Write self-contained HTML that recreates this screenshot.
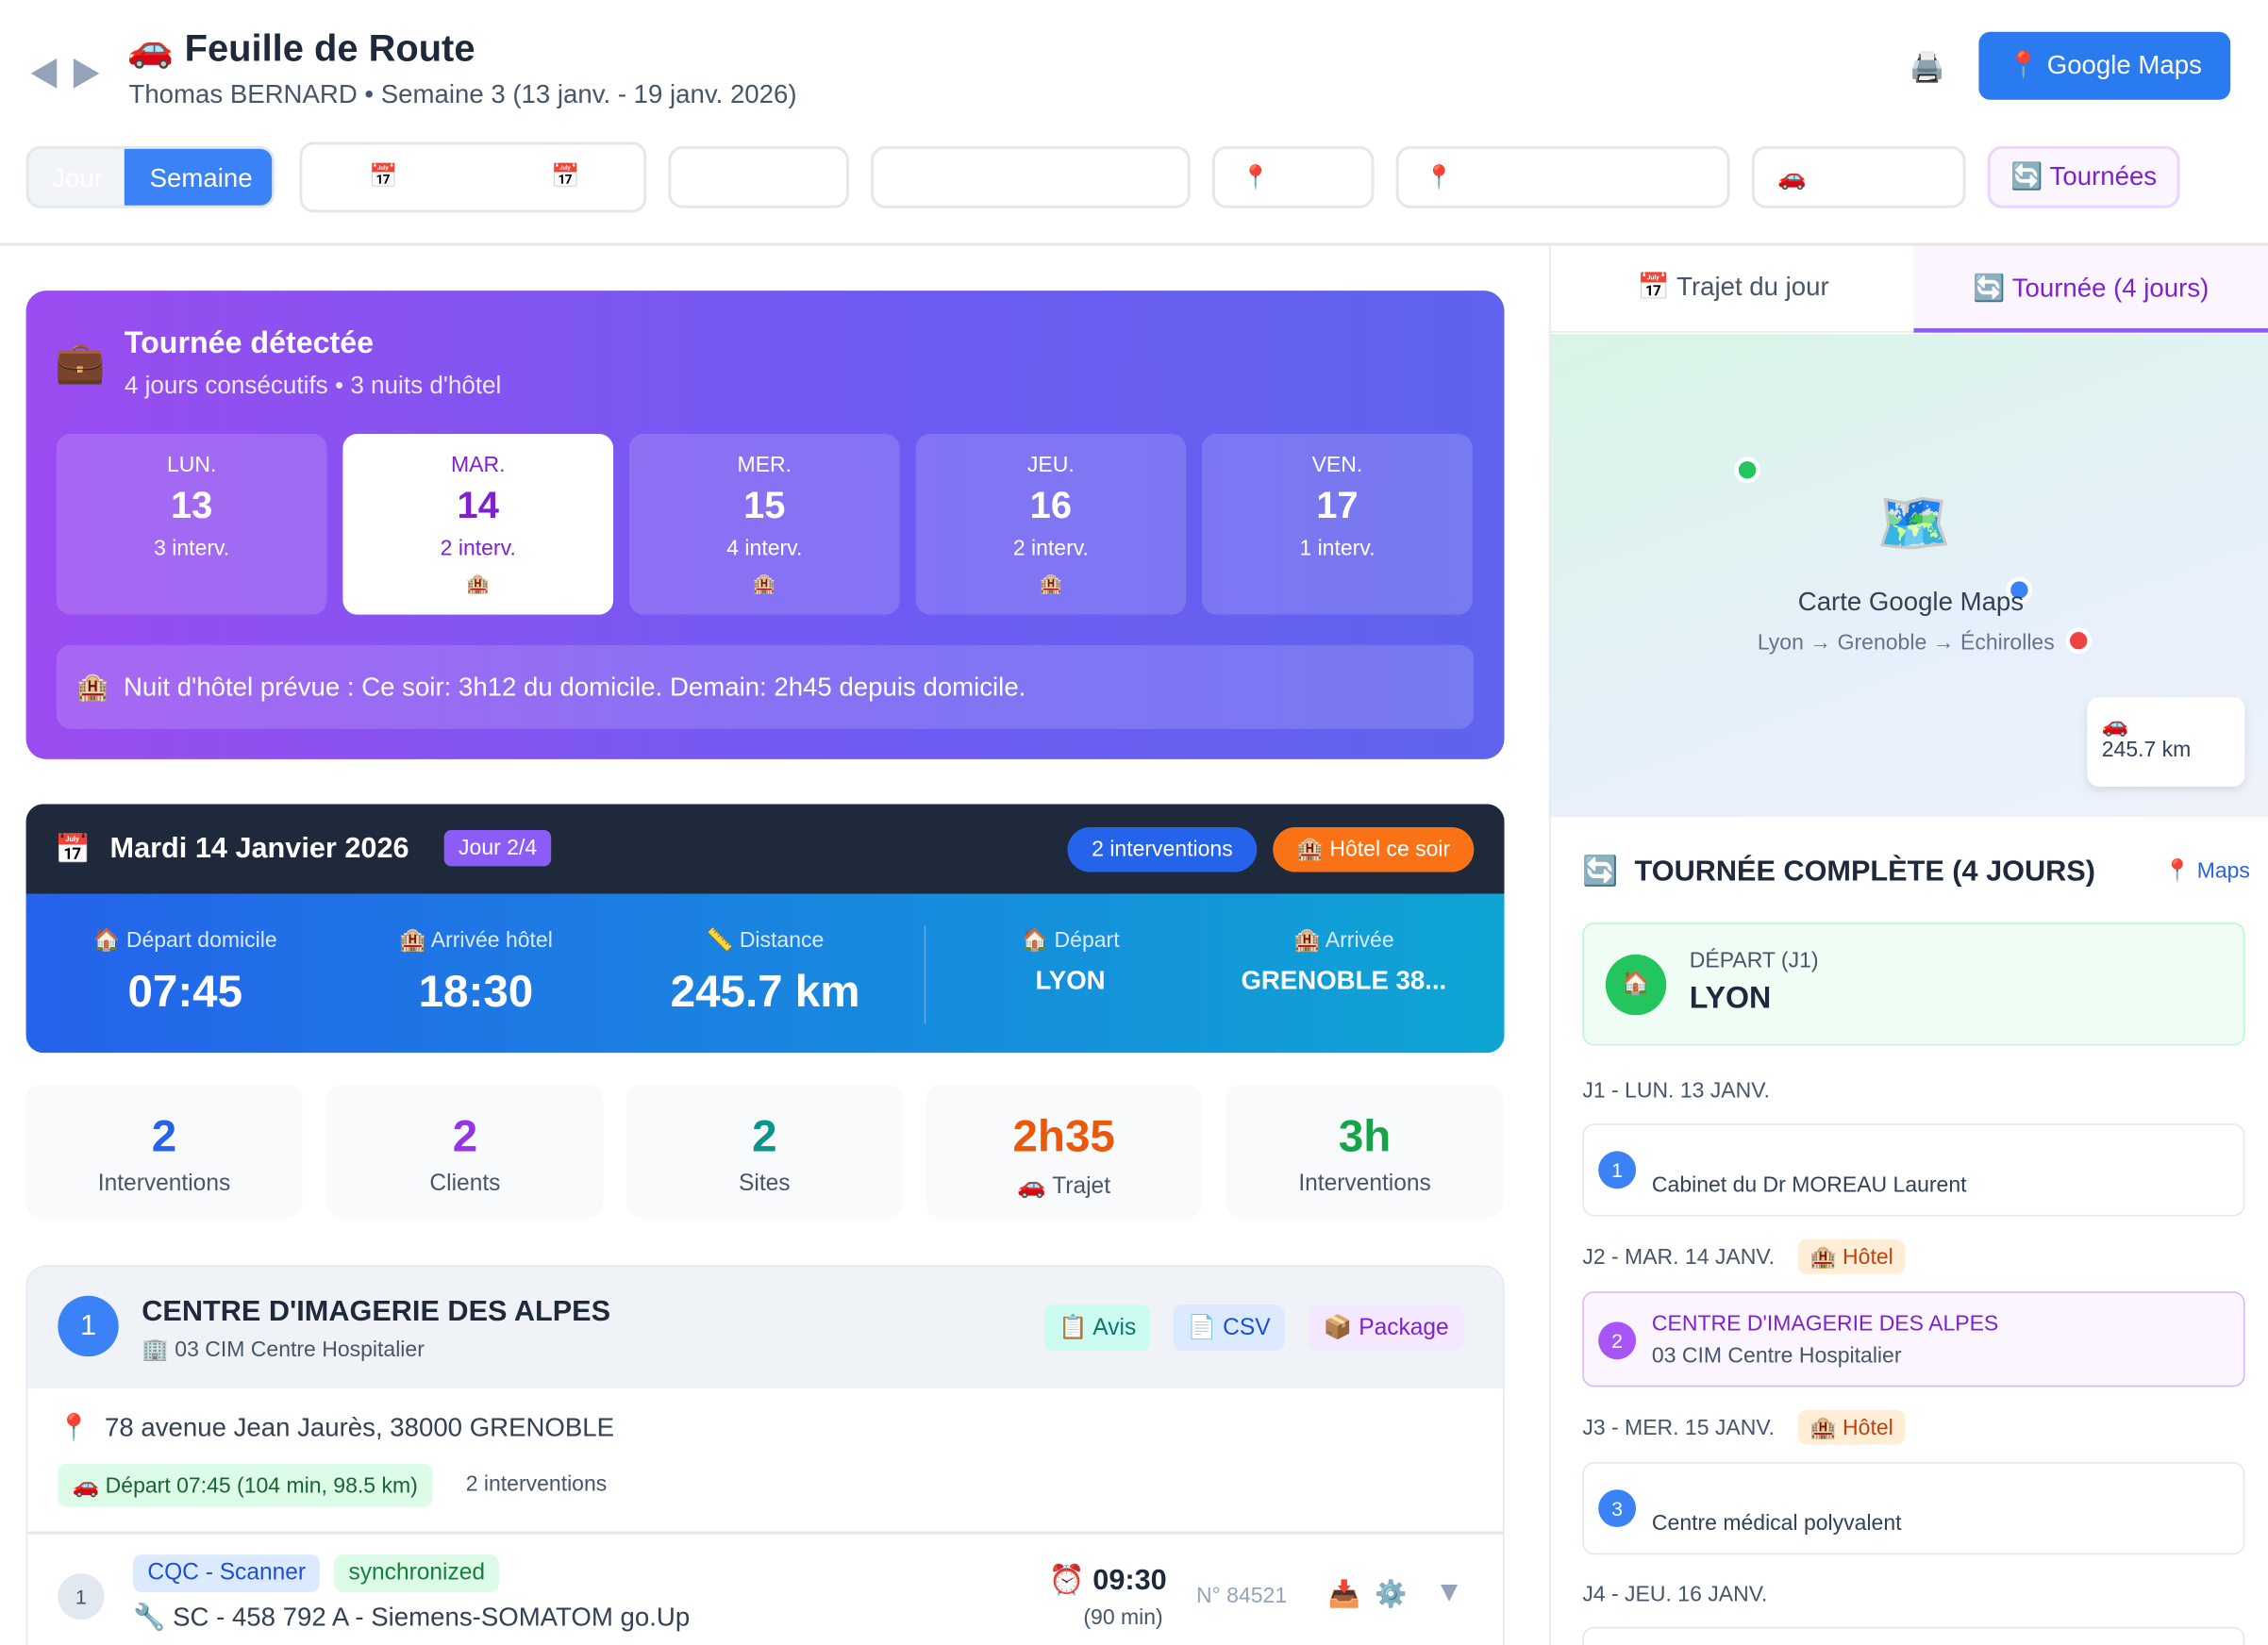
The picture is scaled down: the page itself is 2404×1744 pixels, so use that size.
<!DOCTYPE html>
<html><head><meta charset="utf-8"><style>
*{box-sizing:border-box;margin:0;padding:0}
html,body{width:2404px;height:1744px;overflow:hidden;background:#fff}
#w{width:1568px;height:1138px;position:relative;transform:scale(1.5332);transform-origin:0 0;font-family:"Liberation Sans","Noto Sans CJK JP",sans-serif;color:#1e293b}
.a{position:absolute}
.box{position:absolute;border:2px solid #e5e7eb;border-radius:10px;background:#fff}
.c{text-align:center}
.day{position:absolute;top:300px;width:187px;height:125px;border-radius:10px;background:rgba(255,255,255,.15);color:#fff;text-align:center}
.day .d1{font-size:15px;margin-top:13px}.day .d2{font-size:26px;font-weight:bold;margin-top:4px}.day .d3{font-size:15px;margin-top:6px}.day .d4{font-size:13px;margin-top:8px}
.st{position:absolute;top:750px;width:191px;height:92px;border-radius:10px;background:#f8fafc;text-align:center}
.st b{display:block;font-size:31px;margin-top:18px}.st span{font-size:16px;color:#475569;display:block;margin-top:6px}
.tag{position:absolute;border-radius:6px;font-size:16px;padding:6px 10px}
.card{position:absolute;left:1094px;width:458px;border:1px solid #e2e8f0;border-radius:8px;background:#fff}
.num{position:absolute;width:26px;height:26px;border-radius:13px;color:#fff;font-size:14px;text-align:center;line-height:26px}
.lbl{position:absolute;left:1094px;font-size:15px;color:#475569}
</style></head><body><div id="w">
<div class="a" style="left:20px;top:34px;font-size:22px;color:#94a3b8">◀ ▶</div>
<div class="a" style="left:88px;top:18px;font-size:26px;font-weight:bold">🚗 Feuille de Route</div>
<div class="a" style="left:89px;top:55px;font-size:18px;color:#475569">Thomas BERNARD • Semaine 3 (13 janv. - 19 janv. 2026)</div>
<div class="a" style="left:1320px;top:34px;font-size:20px">🖨️</div>
<div class="a" style="left:1368px;top:22px;width:174px;height:47px;border-radius:8px;background:#2b7bf0;color:#fff;font-size:18px;line-height:47px;text-align:center">📍 Google Maps</div>
<div class="box" style="left:18px;top:101px;width:172px;height:43px;background:#f1f5f9;overflow:hidden"><div class="a" style="left:16px;top:10px;color:#fff;font-size:18px">Jour</div><div class="a" style="left:66px;top:-2px;width:106px;height:45px;background:#3b82f6;color:#fff;font-size:18px;line-height:45px;text-align:center">Semaine</div></div>
<div class="box" style="left:207px;top:98px;width:240px;height:49px"><span class="a" style="left:46px;top:12px">📅</span><span class="a" style="left:172px;top:12px">📅</span></div>
<div class="box" style="left:462px;top:101px;width:125px;height:43px"></div>
<div class="box" style="left:602px;top:101px;width:221px;height:43px"></div>
<div class="box" style="left:838px;top:101px;width:112px;height:43px"><span class="a" style="left:18px;top:10px">📍</span></div>
<div class="box" style="left:965px;top:101px;width:231px;height:43px"><span class="a" style="left:18px;top:10px">📍</span></div>
<div class="box" style="left:1211px;top:101px;width:148px;height:43px"><span class="a" style="left:16px;top:10px">🚗</span></div>
<div class="box" style="left:1374px;top:101px;width:133px;height:43px;background:#faf5ff;border-color:#e9d5ff;color:#7e22ce;font-size:18px;line-height:39px;text-align:center">🔄 Tournées</div>
<div class="a" style="left:0;top:168px;width:1568px;height:2px;background:#e5e7eb"></div>

<div class="a" style="left:18px;top:201px;width:1022px;height:324px;border-radius:14px;background:linear-gradient(90deg,#9b4cf0,#6d5cf2 60%,#5f63ee)"></div>
<div class="a" style="left:38px;top:234px;font-size:28px">💼</div>
<div class="a" style="left:86px;top:226px;font-size:21px;font-weight:bold;color:#fff">Tournée détectée</div>
<div class="a" style="left:86px;top:257px;font-size:17px;color:#ede9fe">4 jours consécutifs • 3 nuits d'hôtel</div>
<div class="day" style="left:39px"><div class="d1">LUN.</div><div class="d2">13</div><div class="d3">3 interv.</div></div>
<div class="day" style="left:237px;background:#fff;color:#7e22ce"><div class="d1">MAR.</div><div class="d2">14</div><div class="d3">2 interv.</div><div class="d4">🏨</div></div>
<div class="day" style="left:435px"><div class="d1">MER.</div><div class="d2">15</div><div class="d3">4 interv.</div><div class="d4">🏨</div></div>
<div class="day" style="left:633px"><div class="d1">JEU.</div><div class="d2">16</div><div class="d3">2 interv.</div><div class="d4">🏨</div></div>
<div class="day" style="left:831px"><div class="d1">VEN.</div><div class="d2">17</div><div class="d3">1 interv.</div></div>
<div class="a" style="left:39px;top:446px;width:980px;height:58px;border-radius:10px;background:rgba(255,255,255,.15);color:#fff;font-size:18px;line-height:58px;padding-left:14px">🏨&nbsp; Nuit d'hôtel prévue : Ce soir: 3h12 du domicile. Demain: 2h45 depuis domicile.</div>

<div class="a" style="left:18px;top:556px;width:1022px;height:172px;border-radius:12px;overflow:hidden;background:linear-gradient(90deg,#2563eb,#0ea5d4)">
<div class="a" style="left:0;top:0;width:1022px;height:62px;background:#1e293b"></div>
</div>
<div class="a" style="left:38px;top:575px;font-size:20px">📅</div>
<div class="a" style="left:76px;top:576px;font-size:20px;font-weight:bold;color:#fff">Mardi 14 Janvier 2026</div>
<div class="a" style="left:307px;top:574px;background:#8b5cf6;color:#fff;font-size:15px;padding:4px 10px;border-radius:5px">Jour 2/4</div>
<div class="a" style="left:738px;top:572px;width:131px;height:31px;border-radius:16px;background:#2563eb;color:#fff;font-size:15px;line-height:31px;text-align:center">2 interventions</div>
<div class="a" style="left:880px;top:572px;width:139px;height:31px;border-radius:16px;background:#f97316;color:#fff;font-size:15px;line-height:31px;text-align:center">🏨 Hôtel ce soir</div>
<div class="a c" style="left:28px;top:641px;width:200px;color:#dbeafe;font-size:15px">🏠 Départ domicile</div>
<div class="a c" style="left:28px;top:668px;width:200px;color:#fff;font-size:31px;font-weight:bold">07:45</div>
<div class="a c" style="left:229px;top:641px;width:200px;color:#dbeafe;font-size:15px">🏨 Arrivée hôtel</div>
<div class="a c" style="left:229px;top:668px;width:200px;color:#fff;font-size:31px;font-weight:bold">18:30</div>
<div class="a c" style="left:429px;top:641px;width:200px;color:#dbeafe;font-size:15px">📏 Distance</div>
<div class="a c" style="left:429px;top:668px;width:200px;color:#fff;font-size:31px;font-weight:bold">245.7 km</div>
<div class="a" style="left:639px;top:640px;width:1px;height:68px;background:rgba(255,255,255,.3)"></div>
<div class="a c" style="left:640px;top:641px;width:200px;color:#dbeafe;font-size:15px">🏠 Départ</div>
<div class="a c" style="left:640px;top:668px;width:200px;color:#fff;font-size:18px;font-weight:bold">LYON</div>
<div class="a c" style="left:829px;top:641px;width:200px;color:#dbeafe;font-size:15px">🏨 Arrivée</div>
<div class="a c" style="left:829px;top:668px;width:200px;color:#fff;font-size:18px;font-weight:bold">GRENOBLE 38...</div>

<div class="st" style="left:18px"><b style="color:#2563eb">2</b><span>Interventions</span></div>
<div class="st" style="left:226px"><b style="color:#9333ea">2</b><span>Clients</span></div>
<div class="st" style="left:433px"><b style="color:#0d9488">2</b><span>Sites</span></div>
<div class="st" style="left:640px"><b style="color:#ea580c">2h35</b><span>🚗 Trajet</span></div>
<div class="st" style="left:848px"><b style="color:#16a34a">3h</b><span>Interventions</span></div>

<div class="a" style="left:18px;top:875px;width:1022px;height:280px;border:1px solid #e2e8f0;border-radius:14px;overflow:hidden">
<div class="a" style="left:0;top:0;width:1022px;height:84px;background:#eff3f8"></div>
<div class="a" style="left:0;top:183px;width:1022px;height:2px;background:#e5e7eb"></div>
</div>
<div class="a" style="left:40px;top:896px;width:42px;height:42px;border-radius:21px;background:#3b82f6;color:#fff;font-size:20px;line-height:42px;text-align:center">1</div>
<div class="a" style="left:98px;top:896px;font-size:20px;font-weight:bold">CENTRE D'IMAGERIE DES ALPES</div>
<div class="a" style="left:98px;top:924px;font-size:15px;color:#475569">🏢 03 CIM Centre Hospitalier</div>
<div class="tag" style="left:722px;top:902px;background:#ccfbf1;color:#0f766e">📋 Avis</div>
<div class="tag" style="left:811px;top:902px;background:#dbeafe;color:#1d4ed8">📄 CSV</div>
<div class="tag" style="left:905px;top:902px;background:#f3e8ff;color:#7e22ce">📦 Package</div>
<div class="a" style="left:40px;top:977px;font-size:18px;color:#334155">📍 &nbsp;78 avenue Jean Jaurès, 38000 GRENOBLE</div>
<div class="tag" style="left:40px;top:1012px;background:#dcfce7;color:#166534;font-size:15px;padding:6px 10px">🚗 Départ 07:45 (104 min, 98.5 km)</div>
<div class="a" style="left:322px;top:1018px;font-size:15px;color:#475569">2 interventions</div>
<div class="a" style="left:40px;top:1088px;width:32px;height:32px;border-radius:16px;background:#e2e8f0;color:#475569;font-size:14px;line-height:32px;text-align:center">1</div>
<div class="tag" style="left:92px;top:1075px;background:#dbeafe;color:#1d4ed8;padding:4px 10px">CQC - Scanner</div>
<div class="tag" style="left:231px;top:1075px;background:#dcfce7;color:#15803d;padding:4px 10px">synchronized</div>
<div class="a" style="left:92px;top:1108px;font-size:18px;color:#334155">🔧 SC - 458 792 A - Siemens-SOMATOM go.Up</div>
<div class="a" style="left:725px;top:1080px;font-size:20px;font-weight:bold">⏰ 09:30</div>
<div class="a" style="left:749px;top:1110px;font-size:15px;color:#475569">(90 min)</div>
<div class="a" style="left:827px;top:1095px;font-size:15px;color:#94a3b8">N° 84521</div>
<div class="a" style="left:918px;top:1092px;font-size:18px">📥 &nbsp;⚙️</div>
<div class="a" style="left:992px;top:1090px;font-size:20px;color:#94a3b8">▼</div>

<div class="a" style="left:1071px;top:170px;width:1px;height:968px;background:#e5e7eb"></div>
<div class="a" style="left:1072px;top:170px;width:496px;height:60px;background:#fff;border-bottom:1px solid #e5e7eb"></div>
<div class="a" style="left:1132px;top:188px;font-size:18px;color:#475569">📅 Trajet du jour</div>
<div class="a" style="left:1323px;top:170px;width:245px;height:60px;background:#faf5ff;border-bottom:3px solid #8b5cf6;color:#7e22ce;font-size:18px;line-height:58px;text-align:center">🔄 Tournée (4 jours)</div>
<div class="a" style="left:1072px;top:231px;width:496px;height:334px;background:linear-gradient(160deg,#d8f5e4,#e6f0fb 60%,#eef2fb)"></div>
<div class="a" style="left:1199px;top:316px;width:18px;height:18px;border-radius:9px;background:#22c55e;border:3px solid #fff"></div>
<div class="a" style="left:1387px;top:399px;width:18px;height:18px;border-radius:9px;background:#3b82f6;border:3px solid #fff"></div>
<div class="a" style="left:1428px;top:434px;width:18px;height:18px;border-radius:9px;background:#ef4444;border:3px solid #fff"></div>
<div class="a" style="left:1297px;top:338px;font-size:42px">🗺️</div>
<div class="a" style="left:1243px;top:406px;font-size:18px;color:#334155">Carte Google Maps</div>
<div class="a" style="left:1215px;top:436px;font-size:15px;color:#64748b">Lyon → Grenoble → Échirolles</div>
<div class="a" style="left:1443px;top:482px;width:109px;height:62px;border-radius:8px;background:#fff;box-shadow:0 2px 6px rgba(0,0,0,.1);padding:10px;font-size:15px;color:#334155">🚗<br>245.7 km</div>
<div class="a" style="left:1094px;top:590px;font-size:20px;font-weight:bold">🔄&nbsp; TOURNÉE COMPLÈTE (4 JOURS)</div>
<div class="a" style="left:1496px;top:593px;font-size:15px;color:#2563eb">📍 Maps</div>
<div class="a" style="left:1094px;top:638px;width:458px;height:85px;border-radius:8px;background:#f0fdf4;border:1px solid #bbf7d0"></div>
<div class="a" style="left:1110px;top:660px;width:42px;height:42px;border-radius:21px;background:#22c55e;text-align:center;line-height:42px;font-size:16px">🏠</div>
<div class="a" style="left:1168px;top:656px;font-size:15px;color:#475569">DÉPART (J1)</div>
<div class="a" style="left:1168px;top:679px;font-size:21px;font-weight:bold">LYON</div>
<div class="lbl" style="top:746px">J1 - LUN. 13 JANV.</div>
<div class="card" style="top:777px;height:64px"><div class="num" style="left:10px;top:18px;background:#3b82f6">1</div><div class="a" style="left:47px;top:33px;font-size:15px;color:#334155">Cabinet du Dr MOREAU Laurent</div></div>
<div class="lbl" style="top:861px">J2 - MAR. 14 JANV.</div>
<div class="tag" style="left:1243px;top:857px;background:#ffedd5;color:#c2410c;font-size:15px;padding:3px 8px">🏨 Hôtel</div>
<div class="card" style="top:893px;height:66px;background:#faf5ff;border-color:#d8b4fe"><div class="num" style="left:10px;top:20px;background:#a855f7">2</div><div class="a" style="left:47px;top:13px;font-size:15px;color:#7e22ce">CENTRE D'IMAGERIE DES ALPES</div><div class="a" style="left:47px;top:35px;font-size:15px;color:#475569">03 CIM Centre Hospitalier</div></div>
<div class="lbl" style="top:979px">J3 - MER. 15 JANV.</div>
<div class="tag" style="left:1243px;top:975px;background:#ffedd5;color:#c2410c;font-size:15px;padding:3px 8px">🏨 Hôtel</div>
<div class="card" style="top:1011px;height:64px"><div class="num" style="left:10px;top:18px;background:#3b82f6">3</div><div class="a" style="left:47px;top:33px;font-size:15px;color:#334155">Centre médical polyvalent</div></div>
<div class="lbl" style="top:1094px">J4 - JEU. 16 JANV.</div>
<div class="card" style="top:1125px;height:40px"></div>
</div></body></html>
